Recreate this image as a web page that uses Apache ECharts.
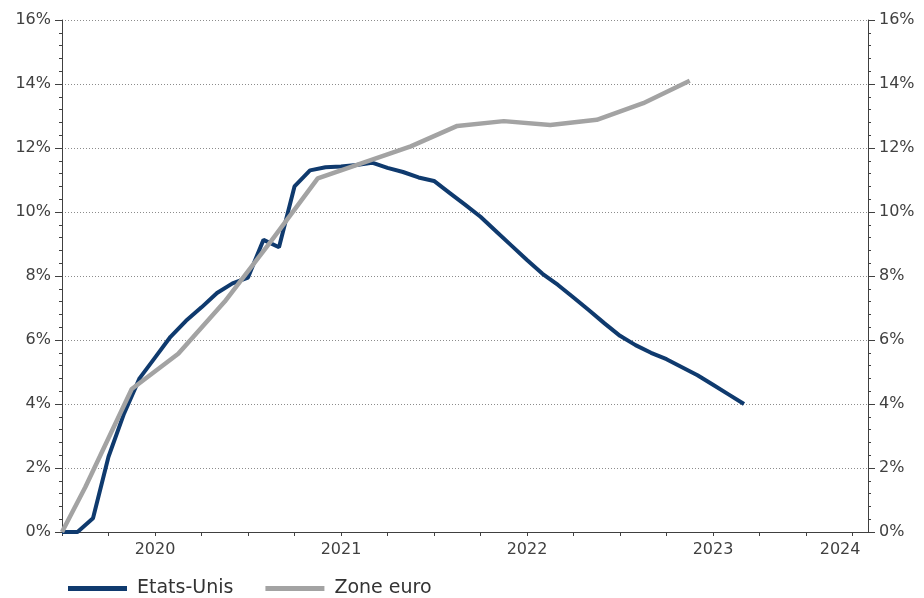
<!DOCTYPE html>
<html><head><meta charset="utf-8">
<script src="https://cdn.jsdelivr.net/npm/echarts@6/dist/echarts.min.js"></script>
<style>html,body{margin:0;padding:0;background:#fff}#c{width:924px;height:598px}</style>
</head><body><div id="c"></div>
<script>
const seriesNames = ['Etats-Unis', 'Zone euro'];
// months since July 2019
const usMonths = [0,1,2,3,4,5,6,7,8,9,10,11,12,13,14,15,16,17,18,19,20,21,22,23,24,25,26,27,28,29,30,31,32,33,34,35,36,37,38,39,40,41,42,43,44];
const usValues = [0,0,0.43,2.35,3.7,4.8,5.45,6.1,6.6,7.02,7.47,7.77,7.95,9.13,8.9,10.8,11.3,11.4,11.42,11.47,11.54,11.38,11.25,11.08,10.97,10.6,10.23,9.85,9.4,8.95,8.5,8.07,7.72,7.33,6.93,6.52,6.13,5.84,5.6,5.4,5.15,4.9,4.6,4.3,4.0];
const euroMonths = [0,1.5,4.5,7.5,10.5,13.5,16.5,19.5,22.5,25.5,28.5,31.5,34.5,37.5,40.5];
const euroValues = [0,1.4,4.47,5.57,7.2,9.1,11.05,11.55,12.05,12.69,12.84,12.72,12.88,13.4,14.1];
const xLabelPos = [6,18,30,42,50.2];
const xLabelText = ['2020','2021','2022','2023','2024'];
const xTickPos = [0,3,6,9,12,15,18,21,24,27,30,33,36,39,42,45,48,51];

const axisColor = '#404040';
const font = 'DejaVu Sans';
function yAxis(pos, grid) {
  return {
    type: 'value', position: pos, min: 0, max: 16, interval: 2,
    axisLine: {show: true, lineStyle: {color: axisColor}},
    axisTick: {show: true, length: 7, lineStyle: {color: axisColor}},
    minorTick: {show: true, splitNumber: 5, length: 3, lineStyle: {color: axisColor}},
    axisLabel: {formatter: '{value}%', fontFamily: font, fontSize: 16, color: axisColor, margin: 11},
    splitLine: {show: grid, lineStyle: {type: [1, 2], color: '#8c8c8c'}}
  };
}
const chart = echarts.init(document.getElementById('c'), null, {renderer: 'canvas'});
chart.setOption({
  animation: false,
  backgroundColor: '#fff',
  grid: {left: 62, right: 56, top: 20, bottom: 66},
  legend: {
    data: seriesNames, left: 63, top: 574, icon: 'rect', itemWidth: 59, itemHeight: 5, itemGap: 32,
    textStyle: {fontFamily: font, fontSize: 19, color: '#333', padding: [0, 0, 0, 5]}
  },
  xAxis: {
    type: 'value', min: 0, max: 52,
    axisLine: {onZero: false, lineStyle: {color: axisColor}},
    axisTick: {show: true, customValues: xTickPos, length: 4, lineStyle: {color: axisColor}},
    axisLabel: {customValues: xLabelPos, formatter: v => xLabelText[xLabelPos.indexOf(v)] || '',
      fontFamily: font, fontSize: 16, color: axisColor, margin: 10},
    splitLine: {show: false}
  },
  yAxis: [yAxis('left', true), yAxis('right', false)],
  series: [
    {name: seriesNames[0], type: 'line', showSymbol: false, symbol: 'none',
     data: usMonths.map((m, i) => [m, usValues[i]]),
     lineStyle: {color: '#0f3a6e', width: 4}, itemStyle: {color: '#0f3a6e'}},
    {name: seriesNames[1], type: 'line', showSymbol: false, symbol: 'none',
     data: euroMonths.map((m, i) => [m, euroValues[i]]),
     lineStyle: {color: '#a3a3a3', width: 4.5}, itemStyle: {color: '#a3a3a3'}}
  ]
});
</script></body></html>
